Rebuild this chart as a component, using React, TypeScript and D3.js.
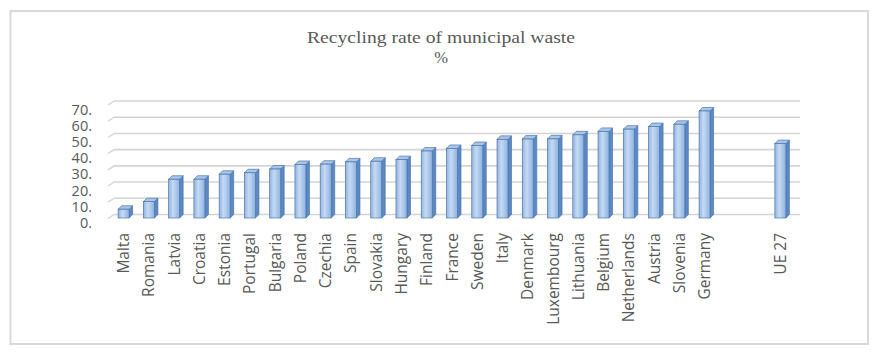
import React, { useEffect, useRef } from 'react';
import * as d3 from 'd3';

const countries = [
  'Malta', 'Romania', 'Latvia', 'Croatia', 'Estonia', 'Portugal', 'Bulgaria', 'Poland',
  'Czechia', 'Spain', 'Slovakia', 'Hungary', 'Finland', 'France', 'Sweden', 'Italy',
  'Denmark', 'Luxembourg', 'Lithuania', 'Belgium', 'Netherlands', 'Austria', 'Slovenia', 'Germany',
];
const rates = [
  5.4, 10.1, 23.9, 23.9, 27.0, 27.9, 30.2, 33.0,
  33.2, 34.6, 35.0, 36.0, 41.3, 42.9, 44.7, 48.5,
  48.7, 48.8, 51.3, 53.4, 54.8, 56.4, 57.8, 66.0,
];
const euLabel = 'UE 27';
const euRate = 45.9;
const yTicks = [0, 10, 20, 30, 40, 50, 60, 70];

const App = () => {
  const svgRef = useRef<SVGSVGElement>(null);

  useEffect(() => {
    const svg = d3.select(svgRef.current);
    svg.selectAll('*').remove();

    const width = 882;
    const height = 358;
    const grey = '#595959';

    // two empty slots before the EU bar
    const domain = [...countries, 'gap1', 'gap2', euLabel];
    const bars = countries.map((c, i) => ({ key: c, value: rates[i] }));
    bars.push({ key: euLabel, value: euRate });

    const x = d3.scaleBand().domain(domain).range([111, 793]).padding(0);
    const y = d3.scaleLinear().domain([0, 70]).range([214.5, 101]);

    // 3D offsets
    const wallDx = 6, wallDy = 4;
    const depth = 3.5;
    const half = 5.5;

    const defs = svg.append('defs');
    const grad = defs.append('linearGradient').attr('id', 'barFront')
      .attr('x1', '0%').attr('x2', '100%').attr('y1', '0%').attr('y2', '0%');
    grad.append('stop').attr('offset', '0%').attr('stop-color', '#8fb4e3');
    grad.append('stop').attr('offset', '40%').attr('stop-color', '#c6daf2');
    grad.append('stop').attr('offset', '100%').attr('stop-color', '#8db2e0');

    svg.append('rect')
      .attr('x', 0).attr('y', 0).attr('width', width).attr('height', height)
      .attr('fill', '#ffffff');

    // chart frame
    svg.append('rect')
      .attr('x', 10.5).attr('y', 11).attr('width', 857.5).attr('height', 333)
      .attr('fill', '#ffffff')
      .attr('stroke', '#d9d9d9')
      .attr('stroke-width', 2);

    // title
    const title = svg.append('text')
      .attr('text-anchor', 'middle')
      .attr('font-family', '"Liberation Serif", "Times New Roman", serif')
      .attr('font-size', 16.5)
      .attr('fill', grey);
    title.append('tspan').attr('x', 441).attr('y', 43)
      .attr('textLength', 268).attr('lengthAdjust', 'spacingAndGlyphs')
      .text('Recycling rate of municipal waste');
    title.append('tspan').attr('x', 441).attr('y', 63).text('%');

    // gridlines on back wall + side wall diagonals
    const xLeft = x.range()[0];
    const xRight = x.range()[1];
    const grid = svg.append('g');
    yTicks.forEach(t => {
      grid.append('line')
        .attr('x1', xLeft + 3).attr('x2', xRight + 7)
        .attr('y1', y(t)).attr('y2', y(t))
        .attr('stroke', '#d4d4d4').attr('stroke-width', 1.6);
      grid.append('line')
        .attr('x1', xLeft - 3).attr('x2', xLeft - 3 + wallDx)
        .attr('y1', y(t) + wallDy).attr('y2', y(t))
        .attr('stroke', '#d4d4d4').attr('stroke-width', 1.3);
    });

    // y labels
    svg.append('g').selectAll('text')
      .data(yTicks)
      .enter()
      .append('text')
      .attr('x', 92)
      .attr('y', d => y(d) + 13.5)
      .attr('text-anchor', 'end')
      .attr('font-family', '"Open Sans", sans-serif')
      .attr('font-size', 14.5)
      .attr('fill', grey)
      .text(d => `${d}.`);

    // bars
    const y0 = y(0) + depth;
    const g = svg.append('g');
    bars.forEach(d => {
      const cx = (x(d.key) as number) + x.bandwidth() / 2;
      const yt = y(d.value) + depth;
      const l = cx - half, r = cx + half;
      // side face
      g.append('polygon')
        .attr('points', [[r, yt], [r + depth, yt - depth], [r + depth, y0 - depth], [r, y0]].map(p => p.join(',')).join(' '))
        .attr('fill', '#5d89c3')
        .attr('stroke', '#4a76ad').attr('stroke-width', 0.7);
      // top face
      g.append('polygon')
        .attr('points', [[l, yt], [l + depth, yt - depth], [r + depth, yt - depth], [r, yt]].map(p => p.join(',')).join(' '))
        .attr('fill', '#a9c5ea')
        .attr('stroke', '#4a76ad').attr('stroke-width', 0.7);
      // front face
      g.append('rect')
        .attr('x', l).attr('y', yt)
        .attr('width', half * 2).attr('height', y0 - yt)
        .attr('fill', 'url(#barFront)')
        .attr('stroke', '#4a76ad').attr('stroke-width', 0.7);
    });

    // category labels
    svg.append('g').selectAll('text')
      .data(bars)
      .enter()
      .append('text')
      .attr('transform', d => {
        const cx = (x(d.key) as number) + x.bandwidth() / 2 + 5.5;
        return `translate(${cx},233) rotate(-90)`;
      })
      .attr('text-anchor', 'end')
      .attr('font-family', '"Open Sans", sans-serif')
      .attr('font-size', 15.5)
      .attr('fill', grey)
      .text(d => d.key);
  }, []);

  return (
    <svg ref={svgRef} width={882} height={358} style={{ position: 'absolute', left: 0, top: 0 }}></svg>
  );
};

export default App;
